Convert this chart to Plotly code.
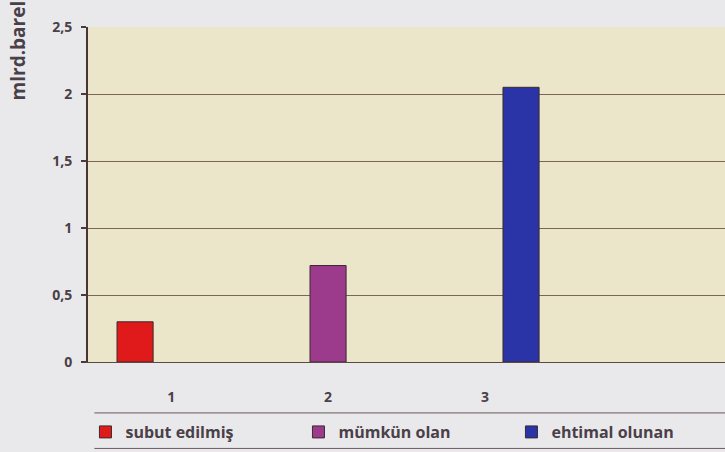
import plotly.graph_objects as go

# Categories and series values (billion barrels)
categories = [1, 2, 3]
series_names = ["subut edilmiş", "mümkün olan", "ehtimal olunan"]
subut = [0.30, None, None]
mumkun = [None, 0.72, None]
ehtimal = [None, None, 2.05]
y_ticks = [0, 0.5, 1, 1.5, 2, 2.5]

colors = ["#e01a1a", "#9c3a8c", "#2b34a6"]
font_family = "Open Sans, Lato, sans-serif"
text_color = "#4a4048"

fig = go.Figure()
for name, vals, col in zip(series_names, [subut, mumkun, ehtimal], colors):
    fig.add_trace(go.Bar(
        x=categories, y=vals, name=name,
        marker=dict(color=col, line=dict(color="#3a2a30", width=1)),
    ))

fig.update_layout(
    width=725, height=452,
    margin=dict(l=88, r=0, t=27, b=90),
    paper_bgcolor="#e9e9eb",
    plot_bgcolor="#ebe5c9",
    separators=", ",
    barmode="group",
    bargap=0.31,
    bargroupgap=0,
    font=dict(family=font_family, color=text_color, size=13),
    showlegend=True,
    legend=dict(
        orientation="h",
        x=-0.004, xanchor="left",
        y=-0.209, yanchor="middle",
        bgcolor="rgba(0,0,0,0)",
        font=dict(size=16, color="#4a4048", weight="bold"),
        entrywidth=168, entrywidthmode="pixels",
        itemwidth=30,
        tracegroupgap=0,
    ),
    xaxis=dict(
        range=[0.47, 4.53],
        tickvals=categories,
        ticktext=[str(c) for c in categories],
        ticks="",
        ticklabelstandoff=22,
        tickfont=dict(size=14, color=text_color, family=font_family, weight="bold"),
        showgrid=False,
        showline=True, linecolor="#5a4a44", linewidth=1,
        zeroline=False,
    ),
    yaxis=dict(
        range=[0, 2.5],
        tickvals=y_ticks,
        ticks="outside", ticklen=5, tickcolor="#4a3a3a", tickwidth=2,
        ticklabelstandoff=6,
        tickfont=dict(size=14, color=text_color, family=font_family, weight="bold"),
        showgrid=True, gridcolor="#7a6656", gridwidth=1,
        showline=True, linecolor="#4a3434", linewidth=2,
        zeroline=False,
    ),
)

# Axis title placed near the top of the value axis
fig.add_annotation(
    text="mlrd.barel", textangle=-90,
    xref="paper", yref="paper", x=-0.11, y=1.085,
    xanchor="center", yanchor="top", showarrow=False,
    font=dict(size=19, color=text_color, family=font_family, weight="bold"),
)

# Frame lines around the legend row
for yy in [-0.152, -0.258]:
    fig.add_shape(type="line", xref="paper", yref="paper",
                  x0=0.01, x1=1.0, y0=yy, y1=yy,
                  line=dict(color="#6a5a5a", width=1))

fig.write_html("out.html")
